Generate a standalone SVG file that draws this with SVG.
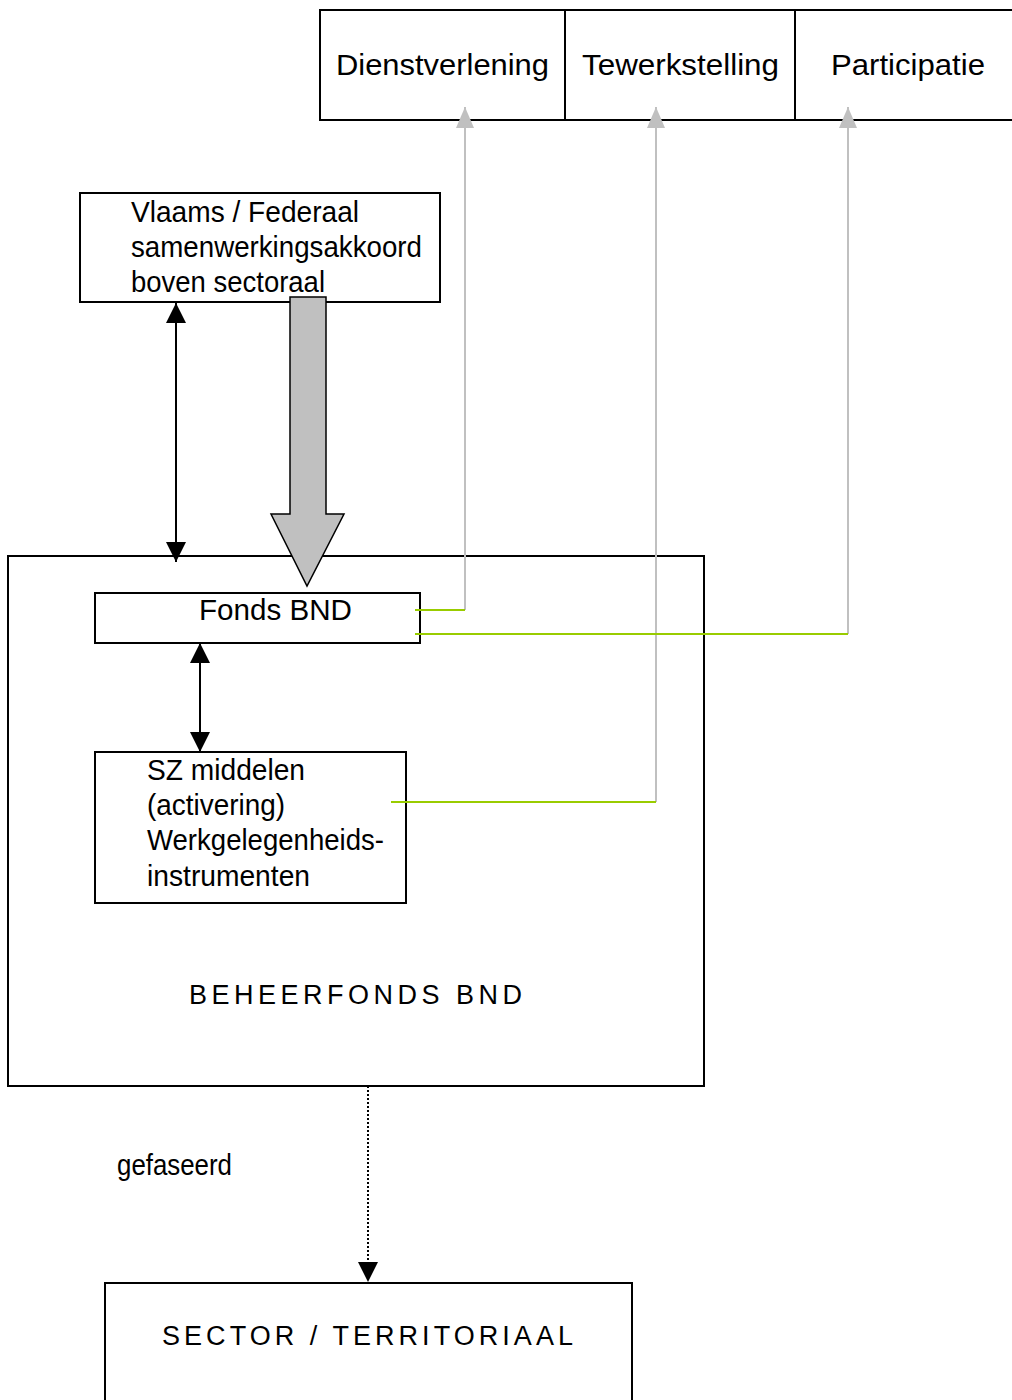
<svg xmlns="http://www.w3.org/2000/svg" width="1012" height="1400" viewBox="0 0 1012 1400">
<style>
.box{fill:#fff;stroke:#000;stroke-width:2}
.t{font-family:"Liberation Sans",Arial,sans-serif;font-size:29px;fill:#000}
.caps{font-family:"Liberation Sans",Arial,sans-serif;font-size:27px;fill:#000}
.gray{fill:none;stroke:#c0c0c0;stroke-width:2}
.green{fill:none;stroke:#99cc00;stroke-width:2}
.blk{fill:none;stroke:#000;stroke-width:2}
</style>
<defs>
<marker id="ab" markerUnits="userSpaceOnUse" markerWidth="20" markerHeight="20" viewBox="0 0 20 20" refX="20" refY="10" orient="auto-start-reverse">
<path d="M0,0 L20,10 L0,20 Z" fill="#000"/>
</marker>
<marker id="ag" markerUnits="userSpaceOnUse" markerWidth="21" markerHeight="18" viewBox="0 0 21 18" refX="21" refY="9" orient="auto">
<path d="M0,0 L21,9 L0,18 Z" fill="#c0c0c0"/>
</marker>
</defs>

<g id="top-row">
<rect class="box" x="320" y="10" width="700" height="110"/>
<line x1="565" y1="10" x2="565" y2="120" stroke="#000" stroke-width="2"/>
<line x1="795" y1="10" x2="795" y2="120" stroke="#000" stroke-width="2"/>
</g>
<g id="dienstverlening"><text class="t" x="336" y="75" textLength="213" lengthAdjust="spacingAndGlyphs">Dienstverlening</text></g>
<g id="tewerkstelling"><text class="t" x="582" y="75" textLength="197" lengthAdjust="spacingAndGlyphs">Tewerkstelling</text></g>
<g id="participatie"><text class="t" x="831" y="75" textLength="154" lengthAdjust="spacingAndGlyphs">Participatie</text></g>

<g id="vlaams">
<rect class="box" x="80" y="193" width="360" height="109"/>
<text class="t" x="131" y="222" textLength="228" lengthAdjust="spacingAndGlyphs">Vlaams / Federaal</text>
<text class="t" x="131" y="257" textLength="291" lengthAdjust="spacingAndGlyphs">samenwerkingsakkoord</text>
<text class="t" x="131" y="292" textLength="194" lengthAdjust="spacingAndGlyphs">boven sectoraal</text>
</g>

<g id="beheerfonds">
<rect class="box" x="8" y="556" width="696" height="530"/>
<text class="caps" x="189" y="1004" textLength="333" lengthAdjust="spacing">BEHEERFONDS BND</text>
</g>

<g id="fonds-bnd">
<rect class="box" x="95" y="593" width="325" height="50"/>
<text class="t" x="199" y="620" textLength="153" lengthAdjust="spacingAndGlyphs">Fonds BND</text>
</g>

<g id="sz-middelen">
<rect class="box" x="95" y="752" width="311" height="151"/>
<text class="t" x="147" y="780" textLength="158" lengthAdjust="spacingAndGlyphs">SZ middelen</text>
<text class="t" x="147" y="815" textLength="138" lengthAdjust="spacingAndGlyphs">(activering)</text>
<text class="t" x="147" y="850" textLength="237" lengthAdjust="spacingAndGlyphs">Werkgelegenheids-</text>
<text class="t" x="147" y="886" textLength="163" lengthAdjust="spacingAndGlyphs">instrumenten</text>
</g>

<g id="gefaseerd"><text class="t" x="117" y="1175" textLength="115" lengthAdjust="spacingAndGlyphs">gefaseerd</text></g>

<g id="sector">
<rect class="box" x="105" y="1283" width="527" height="130"/>
<text class="caps" x="162" y="1345" textLength="411" lengthAdjust="spacing">SECTOR / TERRITORIAAL</text>
</g>

<g id="connectors">
<line class="blk" x1="176" y1="303" x2="176" y2="562" marker-start="url(#ab)" marker-end="url(#ab)"/>
<line class="blk" x1="200" y1="643" x2="200" y2="752" marker-start="url(#ab)" marker-end="url(#ab)"/>
<line class="blk" x1="368" y1="1086" x2="368" y2="1282" stroke-dasharray="2,2" stroke-width="1.5" marker-end="url(#ab)"/>
<polygon points="290,297 326,297 326,514 344,514 307,586 271,514 290,514" fill="#c0c0c0" stroke="#000" stroke-width="1.5"/>
<polyline class="gray" points="465,610 465,107" marker-end="url(#ag)"/>
<polyline class="gray" points="656,802 656,107" marker-end="url(#ag)"/>
<polyline class="gray" points="848,634 848,107" marker-end="url(#ag)"/>
<line class="green" x1="415" y1="610" x2="465" y2="610"/>
<line class="green" x1="415" y1="634" x2="848" y2="634"/>
<line class="green" x1="391" y1="802" x2="656" y2="802"/>
</g>
</svg>
